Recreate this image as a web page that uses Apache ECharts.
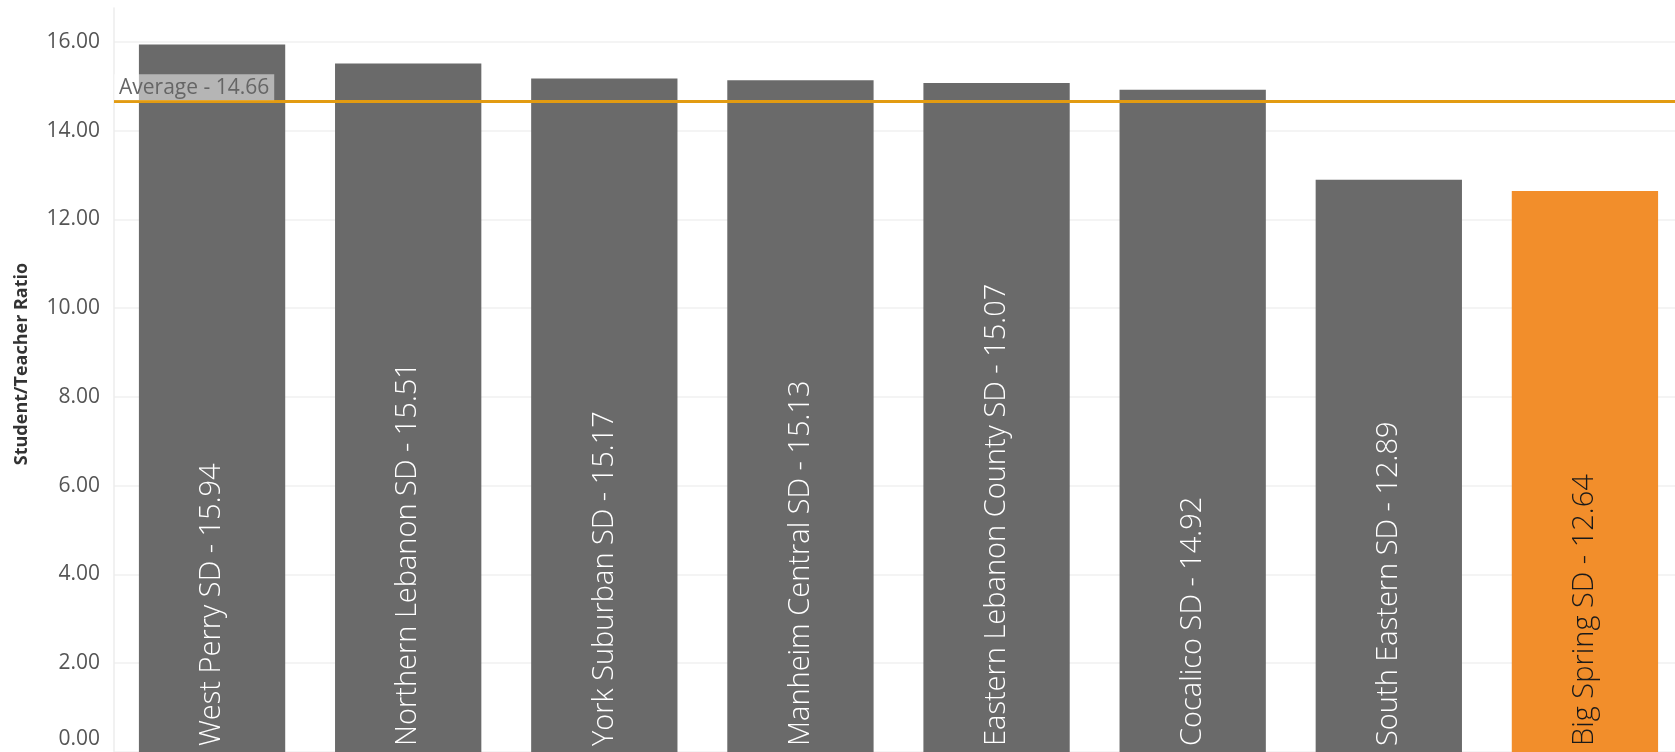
<!DOCTYPE html>
<html>
<head>
<meta charset="utf-8">
<script src="https://cdn.jsdelivr.net/npm/echarts@6/dist/echarts.min.js"></script>
<style>
html,body{margin:0;padding:0;background:#fff;overflow:hidden;width:1675px;height:752px;}
#chart{width:1700px;height:752px;}
</style>
</head>
<body>
<div id="chart"></div>
<script>
const districts = ["West Perry SD","Northern Lebanon SD","York Suburban SD","Manheim Central SD","Eastern Lebanon County SD","Cocalico SD","South Eastern SD","Big Spring SD"];
const ratios = [15.94, 15.51, 15.17, 15.13, 15.07, 14.92, 12.89, 12.64];
const highlighted = ["Big Spring SD"];
const averageValue = 14.66;
const yTicks = [0, 2, 4, 6, 8, 10, 12, 14, 16];

const GRAY = '#6a6a6a', ORANGE = '#f28e2b';
const chart = echarts.init(document.getElementById('chart'));
const barData = districts.map((d, i) => {
  const hi = highlighted.includes(d);
  return {
    value: ratios[i],
    itemStyle: { color: hi ? ORANGE : GRAY },
    label: { color: hi ? '#1a1a1a' : '#ffffff' }
  };
});
// split line colours: visible for the tick values, hidden for the axis extent end
const splitColors = yTicks.map(() => '#f0f0f0').concat(['rgba(0,0,0,0)']);

chart.setOption({
  animation: false,
  grid: { left: 114, top: 8, width: 1569, height: 745 },
  xAxis: {
    type: 'category',
    data: districts,
    axisLine: { show: false },
    axisTick: { show: false },
    axisLabel: { show: false }
  },
  yAxis: {
    type: 'value',
    min: 0,
    max: 16.76,
    interval: 2,
    name: 'Student/Teacher Ratio',
    nameLocation: 'middle',
    nameGap: 83,
    nameRotate: 90,
    nameTextStyle: { fontFamily: 'Open Sans', fontWeight: 'bold', fontSize: 18, color: '#333', padding: [0, 0, 0, 32] },
    axisLine: { show: true, lineStyle: { color: '#ececec', width: 1.5 } },
    axisTick: { show: false },
    splitLine: { show: true, lineStyle: { color: splitColors, width: 1.5 } },
    axisLabel: {
      showMaxLabel: false,
      margin: 14,
      fontFamily: 'Open Sans',
      fontSize: 21,
      color: '#555',
      formatter: v => v === 0 ? '{z|0.00}' : v.toFixed(2),
      rich: { z: { fontFamily: 'Open Sans', fontSize: 21, color: '#555', padding: [0, 0, 26, 0] } }
    }
  },
  series: [{
    type: 'bar',
    data: barData,
    barWidth: '74.6%',
    label: {
      show: true,
      position: 'insideBottom',
      rotate: 90,
      align: 'left',
      verticalAlign: 'middle',
      distance: 6,
      fontFamily: 'Open Sans',
      fontWeight: 300,
      fontSize: 29,
      formatter: p => p.name + ' - ' + p.value.toFixed(2)
    },
    markLine: {
      silent: true,
      symbol: 'none',
      lineStyle: { color: '#e29b12', width: 3, type: 'solid' },
      label: {
        show: true,
        position: 'insideStartTop',
        distance: [0, 1],
        formatter: 'Average - ' + averageValue.toFixed(2),
        fontFamily: 'Open Sans',
        fontSize: 21,
        color: '#666',
        backgroundColor: 'rgba(255,255,255,0.5)',
        padding: [3, 5, 2, 5]
      },
      data: [{ yAxis: averageValue }]
    }
  }]
});
</script>
</body>
</html>
